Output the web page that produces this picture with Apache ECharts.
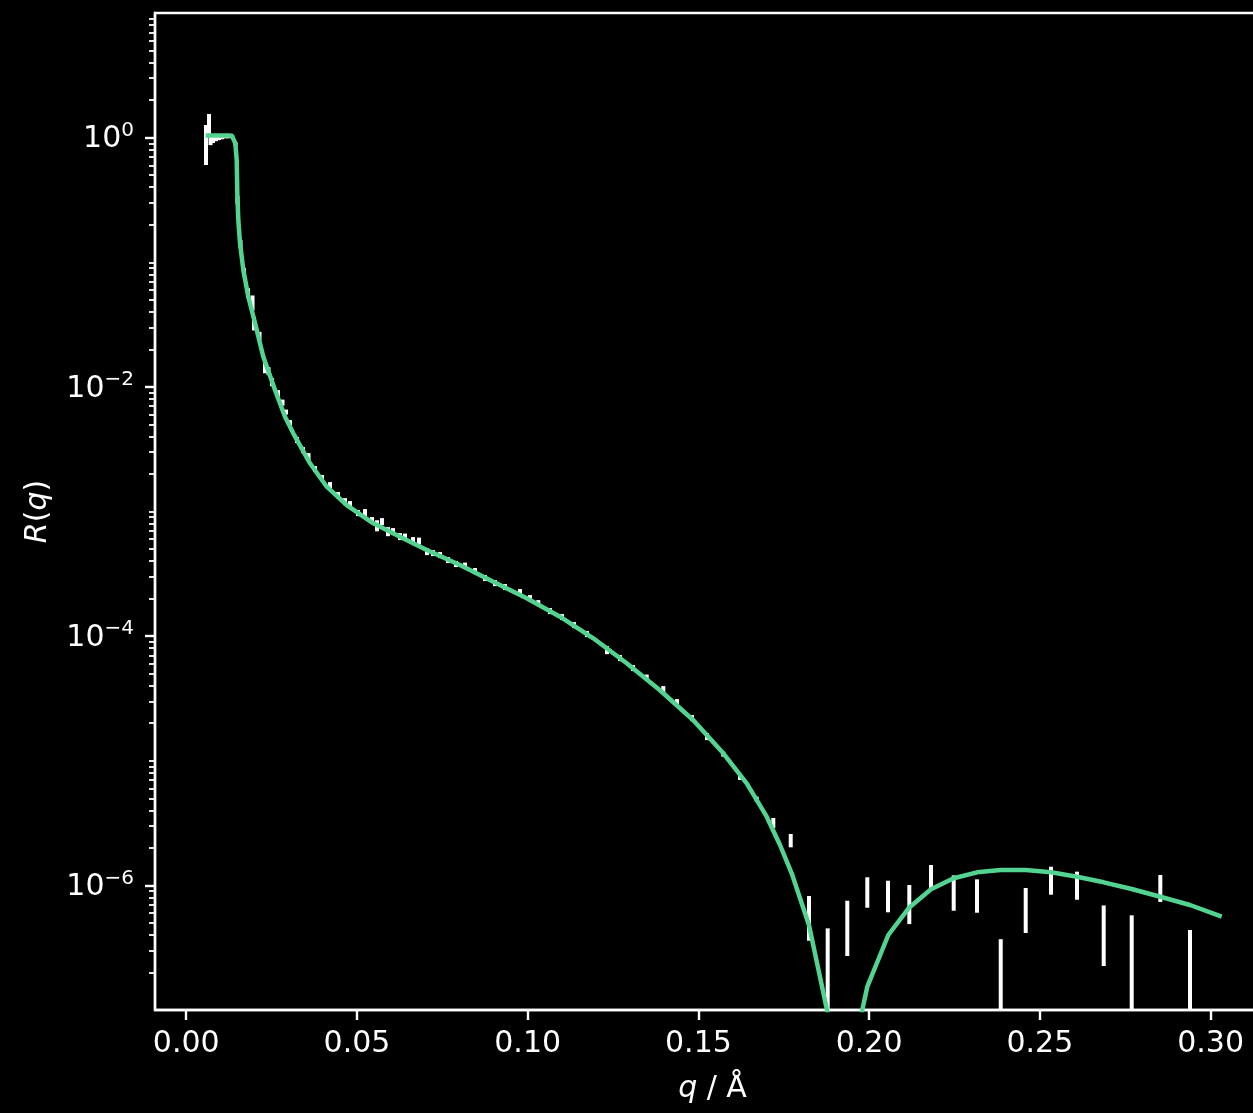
<!DOCTYPE html>
<html><head><meta charset="utf-8">
<script src="https://cdn.jsdelivr.net/npm/echarts@6/dist/echarts.min.js"></script>
<style>html,body{margin:0;padding:0;background:#000;} #c{width:1253px;height:1113px;}</style>
</head><body><div id="c"></div>
<script>
// Model curve (green line)
const qModel = [0.0057, 0.0080, 0.0105, 0.0125, 0.0134, 0.01385, 0.01438, 0.01479, 0.01496, 0.01526, 0.01576, 0.01672, 0.01819, 0.02015, 0.02258, 0.02601, 0.02893, 0.03136, 0.03626, 0.04115, 0.04700, 0.05479, 0.06261, 0.07043, 0.08018, 0.08993, 0.09972, 0.10947, 0.11922, 0.12900, 0.13875, 0.14851, 0.15729, 0.16414, 0.17000, 0.17389, 0.17732, 0.18239, 0.18786, 0.19360, 0.19946, 0.20561, 0.21176, 0.21811, 0.22476, 0.23159, 0.23853, 0.24585, 0.25326, 0.26087, 0.26869, 0.27689, 0.28527, 0.29396, 0.30325];
const rModel = [1.04, 1.04, 1.04, 1.04, 1.035, 1.02, 0.90, 0.661, 0.3594, 0.2183, 0.1419, 0.0867, 0.0529, 0.03255, 0.01746, 0.00943, 0.005763, 0.004241, 0.002436, 0.001581, 0.001127, 0.000804, 0.000628, 0.000491, 0.000372, 0.0002734, 0.0002011, 0.0001432, 9.607e-5, 6.053e-5, 3.678e-5, 2.113e-5, 1.147e-5, 6.59e-6, 3.556e-6, 2.109e-6, 1.25e-6, 4.78e-7, 9.41e-8, 2.79e-8, 1.538e-7, 3.997e-7, 6.646e-7, 9.30e-7, 1.14e-6, 1.273e-6, 1.328e-6, 1.328e-6, 1.273e-6, 1.174e-6, 1.058e-6, 9.35e-7, 8.11e-7, 6.96e-7, 5.61e-7];

// Measured data with error bars (white)
const qData = [0.00580, 0.00668, 0.00712, 0.00785, 0.00873, 0.00961, 0.01048, 0.01166, 0.01283, 0.01444, 0.01502, 0.01590, 0.01693, 0.01810, 0.01942, 0.01986, 0.02147, 0.02308, 0.02410, 0.02513, 0.02688, 0.02820, 0.02923, 0.03040, 0.03245, 0.03420, 0.03582, 0.03772, 0.03977, 0.04211, 0.04445, 0.04650, 0.04797, 0.05031, 0.05236, 0.05441, 0.05588, 0.05734, 0.05910, 0.06056, 0.06261, 0.06408, 0.06642, 0.06818, 0.07052, 0.07228, 0.07433, 0.07667, 0.07901, 0.08165, 0.08458, 0.08751, 0.09043, 0.09336, 0.09775, 0.10068, 0.10311, 0.10654, 0.11005, 0.11357, 0.11737, 0.12323, 0.12704, 0.13085, 0.13486, 0.13972, 0.14373, 0.14812, 0.15252, 0.15729, 0.16218, 0.16707, 0.17193, 0.17703, 0.18239, 0.18786, 0.19360, 0.19946, 0.20552, 0.21176, 0.21811, 0.22476, 0.23159, 0.23853, 0.24585, 0.25326, 0.26087, 0.26869, 0.27689, 0.28527, 0.29396];
const rData = [0.933, 1.2795, 0.97, 0.98, 0.985, 0.99, 0.99, 1.0, 1.0, 0.8889, 0.3158, 0.1401, 0.08353, 0.05665, 0.04753, 0.03233, 0.02567, 0.01417, 0.01341, 0.01094, 0.008767, 0.007491, 0.006285, 0.005131, 0.003749, 0.003114, 0.002762, 0.002193, 0.001857, 0.001632, 0.001357, 0.001203, 0.001159, 0.0009727, 0.0009817, 0.0008545, 0.0007721, 0.0008312, 0.0006913, 0.0006913, 0.0006301, 0.0006301, 0.0005904, 0.0005796, 0.0004775, 0.0004645, 0.0004477, 0.0004082, 0.0003792, 0.0003687, 0.0003331, 0.0002927, 0.0002669, 0.0002478, 0.000226, 0.0002022, 0.0001843, 0.0001591, 0.0001424, 0.0001228, 0.0001040, 7.738e-5, 6.675e-5, 5.551e-5, 4.656e-5, 3.764e-5, 2.934e-5, 2.203e-5, 1.565e-5, 1.13e-5, 7.35e-6, 4.92e-6, 3.18e-6, 2.302e-6, 5.906e-7, 2.2e-7, 5.121e-7, 9.115e-7, 8.49e-7, 7.48e-7, 1.205e-6, 9.145e-7, 8.605e-7, 1.7e-7, 6.84e-7, 1.127e-6, 1.0275e-6, 4.577e-7, 2.8e-7, 9.74e-7, 1.9e-7];
const dRData = [0.330, 0.2679, 0.10, 0.075, 0.05, 0.035, 0.02, 0.015, 0.012, 0.0328, 0.02334, 0.01035, 0.00617, 0.00523, 0.00659, 0.00397, 0.00197, 0.00131, 0.00099, 0.000809, 0.000648, 0.000415, 0.00029, 0.000284, 0.000208, 0.000173, 0.000179, 0.000122, 0.000103, 9.05e-5, 7.52e-5, 7.78e-5, 5.35e-5, 5.39e-5, 6.35e-5, 4.74e-5, 7.85e-5, 5.38e-5, 5.75e-5, 4.47e-5, 4.07e-5, 3.49e-5, 3.27e-5, 3.75e-5, 3.09e-5, 2.57e-5, 2.48e-5, 2.26e-5, 2.1e-5, 2.04e-5, 1.85e-5, 1.62e-5, 1.48e-5, 1.37e-5, 1.25e-5, 1.12e-5, 1.02e-5, 8.8e-6, 7.9e-6, 6.8e-6, 5.8e-6, 5.72e-6, 3.7e-6, 3.08e-6, 2.58e-6, 2.09e-6, 1.9e-6, 1.22e-6, 1.01e-6, 5.2e-7, 3.4e-7, 2.3e-7, 2.9e-7, 2.82e-7, 2.309e-7, 2.32e-7, 2.409e-7, 2.495e-7, 2.41e-7, 2.59e-7, 2.52e-7, 2.885e-7, 2.575e-7, 2.0e-7, 2.69e-7, 2.85e-7, 2.605e-7, 2.323e-7, 2.95e-7, 2.38e-7, 2.485e-7];

// Tick labels
const xTicks = [0, 0.05, 0.10, 0.15, 0.20, 0.25, 0.30];
const yMajorTicks = [1e-6, 1e-4, 1e-2, 1];
const yMinorTicks = [];
for (let n = -7; n <= 0; n++) {
  for (let k = 1; k <= 9; k++) {
    if (k === 1 && (n === -7 || n % 2 === 0)) continue;
    yMinorTicks.push(+(k + 'e' + n));
  }
}

const FONT = 'DejaVu Sans';
const WHITE = '#ffffff';
const GREEN = '#52d38f';

const supFmt = function (v) {
  const e = Math.round(Math.log10(v));
  return '{b|10}{s|' + (e < 0 ? '\u2212' + (-e) : String(e)) + '}';
};

const chart = echarts.init(document.getElementById('c'), null, {renderer: 'canvas'});
const option = {
  backgroundColor: '#000000',
  animation: false,
  grid: {left: 155, top: 13, width: 1115, height: 997, show: true, borderColor: WHITE, borderWidth: 2.4,
    backgroundColor: 'transparent', containLabel: false, outerBoundsMode: 'none'},
  xAxis: {
    type: 'value', min: -0.00914, max: 0.31739,
    axisLine: {show: true, onZero: false, lineStyle: {color: WHITE, width: 2.4}},
    axisTick: {show: true, length: 10, lineStyle: {color: WHITE, width: 2.4}, customValues: xTicks},
    axisLabel: {customValues: xTicks, formatter: function (v) { return v.toFixed(2); }, color: WHITE, fontSize: 30, fontFamily: FONT, margin: 19},
    splitLine: {show: false},
    name: '{i|q} / \u00C5', nameLocation: 'middle', nameGap: 64,
    nameTextStyle: {color: WHITE, fontSize: 30, fontFamily: FONT,
      rich: {i: {fontStyle: 'italic', fontSize: 30, fontFamily: FONT, color: WHITE}}}
  },
  yAxis: [
    {
      type: 'log', logBase: 10, min: 1e-7, max: 10, position: 'left',
      axisLine: {show: true, onZero: false, lineStyle: {color: WHITE, width: 2.4}},
      axisTick: {show: true, length: 10, lineStyle: {color: WHITE, width: 2.4}, customValues: yMajorTicks},
      axisLabel: {customValues: yMajorTicks, formatter: supFmt, color: WHITE, margin: 21, fontFamily: FONT, fontSize: 30,
        rich: {
          b: {fontSize: 30, fontFamily: FONT, color: WHITE, lineHeight: 34, verticalAlign: 'bottom'},
          s: {fontSize: 20, fontFamily: FONT, color: WHITE, lineHeight: 20, padding: [0, 0, 14, 0], verticalAlign: 'bottom'}
        }},
      splitLine: {show: false}, minorTick: {show: false}, minorSplitLine: {show: false},
      name: '{i|R}({i|q})', nameLocation: 'middle', nameGap: 102, nameRotate: 90,
      nameTextStyle: {color: WHITE, fontSize: 30, fontFamily: FONT,
        rich: {i: {fontStyle: 'italic', fontSize: 30, fontFamily: FONT, color: WHITE}}}
    },
    {
      type: 'log', logBase: 10, min: 1e-7, max: 10, position: 'left', offset: 0,
      axisLine: {show: false, onZero: false},
      axisTick: {show: true, length: 6, lineStyle: {color: WHITE, width: 1.8}, customValues: yMinorTicks},
      axisLabel: {show: false},
      splitLine: {show: false}
    }
  ],
  series: [
    {
      type: 'custom', xAxisIndex: 0, yAxisIndex: 0, clip: true, z: 2,
      data: qData.map(function (q, i) { return [q, rData[i], dRData[i]]; }),
      encode: {x: 0, y: 1},
      renderItem: function (params, api) {
        const q = api.value(0), r = api.value(1), e = api.value(2);
        const top = api.coord([q, r + e]);
        const cs = params.coordSys;
        const lo = r - e;
        const yb = lo > 0 ? api.coord([q, lo])[1] : cs.y + cs.height + 20;
        return {type: 'line', shape: {x1: top[0], y1: top[1], x2: top[0], y2: yb},
          style: {stroke: WHITE, lineWidth: 4}};
      }
    },
    {
      type: 'line', xAxisIndex: 0, yAxisIndex: 0, z: 3, clip: true,
      data: qModel.map(function (q, i) { return [q, rModel[i]]; }),
      showSymbol: false, symbol: 'none',
      lineStyle: {color: GREEN, width: 4.5, join: 'round'},
      itemStyle: {color: GREEN},
      emphasis: {disabled: true}
    }
  ]
};
chart.setOption(option);
</script>
</body></html>
